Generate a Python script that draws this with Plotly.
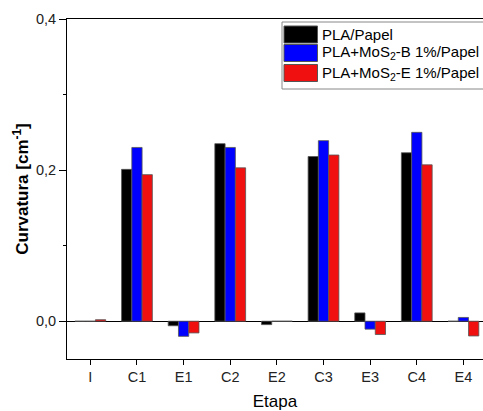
import plotly.graph_objects as go

categories = ["I", "C1", "E1", "C2", "E2", "C3", "E3", "C4", "E4"]
pla_papel = [0.0, 0.201, -0.006, 0.235, -0.0045, 0.218, 0.011, 0.223, 0.0]
pla_mos2_b = [0.0, 0.230, -0.020, 0.230, 0.0, 0.239, -0.0105, 0.250, 0.005]
pla_mos2_e = [0.002, 0.194, -0.0155, 0.203, 0.0, 0.220, -0.0176, 0.207, -0.0195]
series_names = ["PLA/Papel", "PLA+MoS<sub>2</sub>-B 1%/Papel", "PLA+MoS<sub>2</sub>-E 1%/Papel"]
series_colors = ["#000000", "#0000ff", "#f01010"]
y_ticks = [0.0, 0.2, 0.4]
y_ticklabels = ["0,0", "0,2", "0,4"]

FONT = "Liberation Sans, Arial, sans-serif"

fig = go.Figure()
for name, vals, col in zip(series_names, [pla_papel, pla_mos2_b, pla_mos2_e], series_colors):
    fig.add_trace(go.Bar(
        x=categories, y=vals, name=name, marker_color=col,
        marker_line=dict(color="#555555", width=0.8), showlegend=False,
    ))

# custom legend
legend_y = [34.5, 53, 73]
shapes = []
W, H = 483, 411
ml, mr, mt, mb = 67, 0, 19, 52
pw, ph = W - ml - mr, H - mt - mb

def px2paper(x, y):
    return (x - ml) / pw, 1 - (y - mt) / ph

bx0, by0 = px2paper(282, 22)
bx1, by1 = px2paper(490, 89)
shapes.append(dict(type="rect", xref="paper", yref="paper", x0=bx0, x1=bx1, y0=by1, y1=by0,
                   line=dict(color="#888888", width=1), fillcolor="white"))
annotations = []
for name, col, yc in zip(series_names, series_colors, legend_y):
    sx0, sy0 = px2paper(284, yc - 8.5)
    sx1, sy1 = px2paper(317.5, yc + 8.5)
    shapes.append(dict(type="rect", xref="paper", yref="paper", x0=sx0, x1=sx1, y0=sy1, y1=sy0,
                       line=dict(color="#555555", width=1), fillcolor=col))
    tx, ty = px2paper(320, yc)
    annotations.append(dict(xref="paper", yref="paper", x=tx, y=ty, text=name, showarrow=False,
                            xanchor="left", yanchor="middle", font=dict(family=FONT, size=15, color="#000")))

fig.update_layout(
    width=W, height=H,
    margin=dict(l=ml, r=mr, t=mt, b=mb),
    paper_bgcolor="white", plot_bgcolor="white",
    barmode="group", bargap=0.34, bargroupgap=0.0,
    separators=",.",
    font=dict(family=FONT, color="#000"),
    shapes=shapes, annotations=annotations,
    xaxis=dict(
        range=[-0.5, 8.42], showline=True, linecolor="#000", linewidth=1, mirror=True,
        ticks="outside", ticklen=5, tickcolor="#000", tickfont=dict(size=14.5, family=FONT, color="#222"),
        title=dict(text="Etapa", font=dict(size=17, family=FONT), standoff=12),
        showgrid=False,
    ),
    yaxis=dict(
        range=[-0.05, 0.4], tickvals=y_ticks, ticktext=y_ticklabels,
        showline=True, linecolor="#000", linewidth=1,
        ticks="outside", ticklen=7, tickcolor="#000", tickfont=dict(size=14.5, family=FONT, color="#222"),
        minor=dict(tickvals=[0.1, 0.3], ticks="outside", ticklen=3, tickcolor="#000"),
        title=dict(text="<b>Curvatura [cm<sup>-1</sup>]</b>", font=dict(size=17, family=FONT), standoff=2),
        showgrid=False, zeroline=True, zerolinecolor="#000", zerolinewidth=1,
    ),
)

fig.write_html("out.html")
